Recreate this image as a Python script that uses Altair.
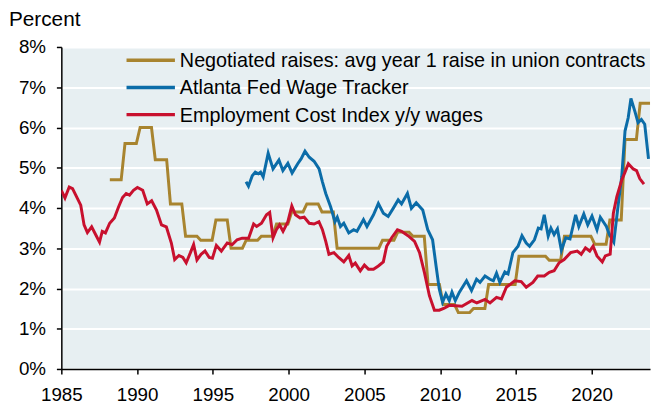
import altair as alt
import pandas as pd

# ---------------- data ----------------
# Negotiated raises: avg year-1 raise in union contracts (annual)
neg_years = list(range(1988, 2024))
neg_values = [4.7, 5.6, 6.0, 5.2, 4.1, 3.3, 3.2, 3.7, 3.0, 3.2,
              3.3, 3.6, 3.9, 4.1, 3.9, 3.0, 3.0, 3.0, 3.2, 3.4,
              3.3, 2.1, 1.6, 1.4, 1.5, 2.1, 2.1, 2.8, 2.8, 2.7,
              3.3, 3.3, 3.1, 3.7, 5.7, 6.6]

# Atlanta Fed Wage Tracker
afw_dates = [1997.19, 1997.35, 1997.6, 1997.8, 1998.0, 1998.15, 1998.32, 1998.65, 1998.97,
             1999.36, 1999.62, 1999.95, 2000.23, 2000.6, 2000.82, 2001.08, 2001.36, 2001.68,
             2002.01, 2002.23, 2002.45, 2002.77, 2003.06, 2003.21, 2003.42, 2003.64, 2003.97,
             2004.29, 2004.51, 2004.94, 2005.17, 2005.6, 2005.92, 2006.25, 2006.57, 2006.9,
             2007.23, 2007.45, 2007.84, 2008.1, 2008.42, 2008.85, 2009.18, 2009.5, 2009.73,
             2009.94, 2010.16, 2010.38, 2010.6, 2010.78, 2011.0, 2011.27, 2011.74, 2012.07,
             2012.4, 2012.63, 2012.96, 2013.29, 2013.51, 2013.72, 2013.94, 2014.27, 2014.48,
             2014.8, 2015.14, 2015.4, 2015.68, 2015.9, 2016.22, 2016.48, 2016.66, 2016.87,
             2017.13, 2017.31, 2017.52, 2017.74, 2018.0, 2018.29, 2018.57, 2018.94, 2019.15,
             2019.48, 2019.74, 2020.02, 2020.35, 2020.57, 2020.97, 2021.17, 2021.46, 2021.76,
             2021.98, 2022.2, 2022.41, 2022.59, 2022.85, 2023.06, 2023.28, 2023.5, 2023.75]
afw_values = [4.65, 4.54, 4.80, 4.89, 4.85, 4.89, 4.77, 5.36, 4.97,
              5.19, 4.93, 5.11, 4.87, 5.10, 5.22, 5.41, 5.26, 5.16,
              4.97, 4.65, 4.36, 4.03, 3.66, 3.77, 3.54, 3.62, 3.38,
              3.46, 3.42, 3.71, 3.54, 3.83, 4.11, 3.87, 3.79, 3.99,
              4.20, 4.10, 4.36, 3.99, 4.13, 3.95, 3.46, 3.21, 2.56,
              1.99, 1.66, 1.86, 1.70, 1.91, 1.70, 1.91, 2.19, 1.95,
              2.23, 2.15, 2.31, 2.23, 2.19, 2.38, 2.15, 2.41, 2.36,
              2.89, 3.05, 3.31, 3.13, 3.05, 3.21, 3.50, 3.48, 3.83,
              3.30, 3.50, 3.34, 3.48, 2.95, 3.26, 3.23, 3.83, 3.54,
              3.85, 3.58, 3.80, 3.46, 3.77, 3.54, 3.34, 3.15, 4.11,
              4.77, 5.91, 6.24, 6.72, 6.40, 6.12, 6.20, 6.08, 5.22]

# Employment Cost Index, y/y wages
eci_dates = [1985.0, 1985.24, 1985.52, 1985.74, 1986.28, 1986.5, 1986.72, 1987.0, 1987.26,
             1987.52, 1987.7, 1987.91, 1988.19, 1988.5, 1988.78, 1989.04, 1989.28, 1989.5,
             1989.76, 1990.02, 1990.37, 1990.67, 1990.96, 1991.28, 1991.61, 1991.93, 1992.26,
             1992.48, 1992.76, 1993.02, 1993.24, 1993.52, 1993.73, 1993.95, 1994.22, 1994.48,
             1994.76, 1994.97, 1995.23, 1995.56, 1995.95, 1996.28, 1996.6, 1996.93, 1997.36,
             1997.69, 1997.89, 1998.21, 1998.54, 1998.75, 1998.97, 1999.19, 1999.4, 1999.63,
             1999.95, 2000.21, 2000.45, 2000.75, 2001.03, 2001.36, 2001.68, 2002.0, 2002.23,
             2002.45, 2002.66, 2002.99, 2003.3, 2003.64, 2003.97, 2004.19, 2004.4, 2004.73,
             2005.0, 2005.27, 2005.6, 2005.92, 2006.25, 2006.47, 2006.8, 2007.18, 2007.45,
             2007.88, 2008.31, 2008.64, 2008.96, 2009.29, 2009.62, 2009.94, 2010.27, 2010.6,
             2011.44, 2012.1, 2012.42, 2012.96, 2013.29, 2013.72, 2014.05, 2014.37, 2014.92,
             2015.35, 2015.68, 2016.12, 2016.44, 2016.87, 2017.2, 2017.52, 2017.85, 2018.18,
             2018.61, 2019.05, 2019.31, 2019.59, 2019.87, 2020.09, 2020.35, 2020.7, 2020.9,
             2021.22, 2021.43, 2021.66, 2021.98, 2022.2, 2022.42, 2022.74, 2022.96, 2023.17,
             2023.45]
eci_values = [4.44, 4.25, 4.52, 4.48, 4.07, 3.58, 3.39, 3.53, 3.34,
              3.15, 3.42, 3.38, 3.62, 3.75, 4.03, 4.26, 4.36, 4.32,
              4.44, 4.51, 4.44, 4.10, 4.18, 3.95, 3.58, 3.53, 3.13,
              2.72, 2.82, 2.77, 2.64, 2.89, 3.09, 2.71, 2.85, 2.93,
              2.77, 2.75, 3.07, 2.93, 3.13, 3.09, 3.21, 3.25, 3.25,
              3.60, 3.54, 3.62, 3.83, 3.89, 3.26, 3.46, 3.58, 3.42,
              3.66, 4.05, 3.83, 3.75, 3.77, 3.62, 3.60, 3.66, 3.46,
              3.17, 2.85, 2.89, 2.77, 2.66, 2.82, 2.56, 2.63, 2.44,
              2.58, 2.48, 2.48, 2.56, 2.66, 3.05, 3.26, 3.46, 3.42,
              3.31, 3.17, 2.89, 2.40, 1.82, 1.46, 1.46, 1.51, 1.58,
              1.56, 1.70, 1.64, 1.73, 1.64, 1.78, 1.74, 2.03, 2.19,
              2.17, 2.03, 2.15, 2.31, 2.31, 2.40, 2.44, 2.64, 2.72,
              2.89, 2.93, 2.85, 3.01, 2.93, 3.05, 2.81, 2.66, 2.81,
              2.85, 3.87, 4.28, 4.69, 4.89, 5.10, 4.97, 4.93, 4.73,
              4.59]

series_names = ["Negotiated raises: avg year 1 raise in union contracts",
                "Atlanta Fed Wage Tracker",
                "Employment Cost Index y/y wages"]
series_colors = ["#A8842F", "#0B6CA8", "#C8102E"]

x_ticks = [1985, 1990, 1995, 2000, 2005, 2010, 2015, 2020]
y_ticks = [0, 1, 2, 3, 4, 5, 6, 7, 8]

# ---------------- table ----------------
rows = []
for yr, v in zip(neg_years, neg_values):
    # annual value held through the year (step series)
    rows.append({"series": series_names[0], "date": yr + 0.2, "value": v})
    rows.append({"series": series_names[0], "date": yr + 0.95, "value": v})
for d, v in zip(afw_dates, afw_values):
    rows.append({"series": series_names[1], "date": d, "value": v})
for d, v in zip(eci_dates, eci_values):
    rows.append({"series": series_names[2], "date": d, "value": v})
df = pd.DataFrame(rows)

FONT = "Liberation Sans"
W, H = 596, 326

x_enc = alt.X("date:Q",
              scale=alt.Scale(domain=[1985, 2023.85], nice=False, zero=False),
              axis=alt.Axis(values=x_ticks, format="d", title=None, grid=False,
                            tickSize=5, labelPadding=12, labelFontSize=19,
                            labelFont=FONT, labelColor="#000", domainColor="#000",
                            tickColor="#000", domainWidth=1.5, tickWidth=1.5,
                            labelFlush=False))
y_enc = alt.Y("value:Q",
              scale=alt.Scale(domain=[0, 8], nice=False),
              axis=alt.Axis(values=y_ticks, labelExpr="datum.value + '%'", title=None,
                            grid=True, gridColor="#ffffff", gridWidth=2,
                            tickSize=5, labelPadding=11, labelFontSize=19,
                            labelFont=FONT, labelColor="#000", domainColor="#000",
                            tickColor="#000", domainWidth=1.5, tickWidth=1.5))

layers = []
for i, name in enumerate(series_names):
    layers.append(
        alt.Chart(df[df["series"] == name]).mark_line(strokeWidth=3, clip=True,
                                                      color=series_colors[i])
        .encode(x=x_enc, y=y_enc, order="date:Q")
    )

# legend (drawn inside plot area, top-left)
legend_layers = []
for i, name in enumerate(series_names):
    yy = 13.5 + 27.5 * i
    legend_layers.append(
        alt.Chart(pd.DataFrame({"a": [0]})).mark_rule(strokeWidth=3.5, color=series_colors[i])
        .encode(x=alt.value(66), x2=alt.value(115), y=alt.value(yy))
    )
    legend_layers.append(
        alt.Chart(pd.DataFrame({"t": [name]})).mark_text(align="left", baseline="middle",
                                                        font=FONT, fontSize=20, color="#000")
        .encode(x=alt.value(120), y=alt.value(yy + 1), text="t:N")
    )

title_layer = alt.Chart(pd.DataFrame({"t": ["Percent"]})).mark_text(
    align="left", baseline="alphabetic", font=FONT, fontSize=21, color="#000"
).encode(x=alt.value(-53), y=alt.value(-21.5), text="t:N")

chart = alt.layer(*layers, *legend_layers, title_layer).properties(
    width=W, height=H,
    background="#ffffff",
    autosize=alt.AutoSizeParams(type="none"),
    padding={"left": 54, "top": 37, "right": 2, "bottom": 33},
).configure_view(fill="#E7EFF2", stroke=None)

chart.save("out.html", embed_options={"renderer": "svg", "actions": False})
